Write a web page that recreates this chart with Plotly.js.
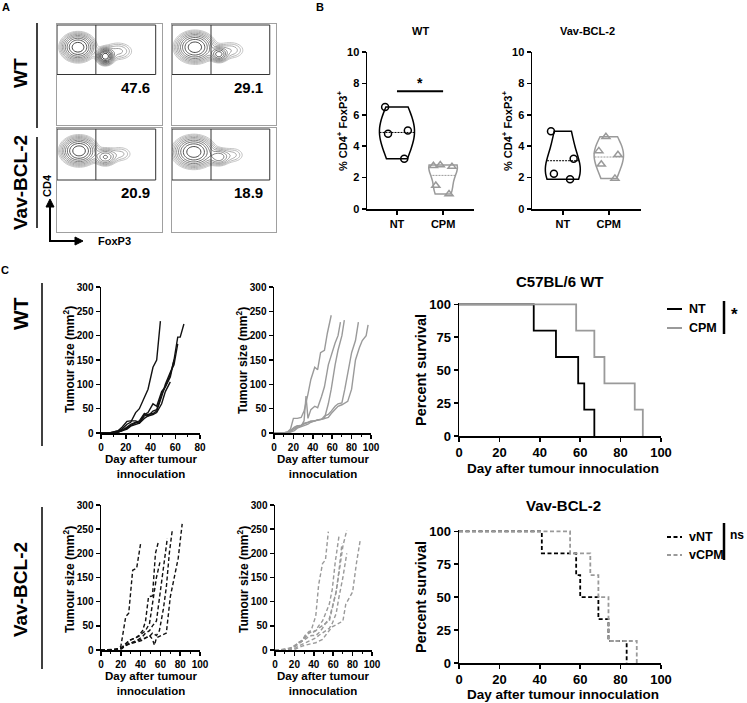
<!DOCTYPE html>
<html><head><meta charset="utf-8">
<script src="https://cdn.plot.ly/plotly-3.0.1.min.js"></script>
<style>html,body{margin:0;padding:0;background:#fff}#chart{width:747px;height:703px}</style>
</head><body><div id="chart"></div>
<script>
// ===================== DATA =====================
// Panel A: flow cytometry (CD4 vs FoxP3), % FoxP3+ of CD4+
const flowPct = ['47.6', '29.1', '20.9', '18.9'];
// populations (FoxP3 axis 0-100, CD4 axis 0-100)
const flowCx = [[20, 46, 58], [22, 45, 56], [21, 46, 60], [21, 45, 58]];
const flowCy = [[77, 68, 73], [77, 70, 74], [78, 72, 75], [77, 72, 74]];
const flowSx = [[7, 3.5, 8], [8, 4, 8], [7.5, 5, 7], [8.5, 5, 7]];
const flowSy = [[6, 3.5, 5], [6.5, 3.5, 5], [6, 4, 4.5], [6.5, 4, 4.5]];
const flowW  = [[1, 1.5, 0.12], [1, 0.6, 0.1], [1, 0.35, 0.08], [1, 0.3, 0.08]];
const gateSplit = [37, 37.5, 37, 37.5];
const gateBottom = 50, gateTop = 99, gateRight = 94;

// Panel B: % CD4+ FoxP3+
const bGroups = ['NT', 'CPM'];
const wtNT   = [6.5, 5.0, 4.8, 3.2];
const wtCPM  = [2.75, 2.8, 2.7, 1.5, 0.95];
const vavNT  = [4.95, 3.2, 2.25, 1.9];
const vavCPM = [4.6, 3.7, 3.45, 2.85, 1.95];

// Panel C: tumour growth (day, mm2)
const wtNTdays = [
  [0,7,10,14,17,21,24,28,31,35,38,42,45,48],
  [0,7,10,14,17,21,24,28,31,35,38,42,45,49,52,56,59,62],
  [0,7,10,14,17,21,24,28,31,35,38,42,45,49,52,56,59,62,64,67],
  [0,7,10,14,17,21,24,28,31,35,38,42,45,49,52,56,59],
  [0,7,10,14,17,21,24,28,31,35,38,42,45,49,52,56]
];
const wtNTsize = [
  [0,0,2,4,8,18,22,42,50,75,90,135,150,230],
  [0,0,0,2,4,8,14,18,20,35,38,40,45,75,100,125,140,183],
  [0,0,2,5,12,24,25,25,22,38,42,60,55,85,95,120,150,197,197,224],
  [0,0,0,3,6,10,15,20,25,40,35,45,48,80,95,115,150],
  [0,0,1,2,5,12,18,22,20,30,35,38,42,60,85,105]
];
const wtCPMdays = [
  [0,7,10,14,17,20,24,28,31,35,38,42,45,48,52,55,59],
  [0,7,10,14,17,21,24,28,31,33,35,38,42,45,49,52,56,59,63,66,68.5],
  [0,10,14,17,21,24,28,31,35,38,42,45,49,52,56,59,63,66,70,72.5],
  [0,10,14,17,21,24,28,31,35,38,42,45,49,52,56,59,63,66,70,73,77,80,84,87],
  [0,14,17,21,24,28,31,35,38,42,45,49,52,56,59,63,66,70,73,76,80,84,88,91,95,97]
];
const wtCPMsize = [
  [0,0,0,2,8,30,30,32,45,80,110,135,130,165,170,205,242],
  [0,0,0,0,5,12,15,14,25,76,30,48,55,52,75,95,140,160,185,200,228],
  [0,0,0,3,10,14,16,18,22,25,25,27,28,30,60,90,140,170,200,232],
  [0,0,2,5,8,12,15,20,22,24,26,27,28,35,38,45,55,60,62,90,130,165,190,228],
  [0,0,2,5,10,12,15,18,22,25,27,28,30,32,40,48,55,58,62,65,90,150,175,190,200,222]
];
const vavNTdays = [
  [0,10,14,17,20,25,28,32,36,40],
  [0,14,17,21,24,28,31,35,38,42,45,48,52,55,58],
  [0,14,17,21,24,28,31,35,38,42,45,49,52,56,60],
  [0,17,21,24,28,31,35,38,42,45,49,52,56,59,63,67],
  [0,17,21,24,28,31,35,38,42,45,49,52,56,59,63,66,69,72],
  [0,14,17,21,24,28,31,35,38,42,45,49,52,54,56,59,63,66,70,74,78,82]
];
const vavNTsize = [
  [0,0,1,3,7,69,76,165,169,220],
  [0,0,2,5,10,20,22,25,30,40,60,110,112,200,224],
  [0,0,2,5,12,18,22,25,28,35,40,55,100,150,186],
  [0,0,3,8,12,15,18,22,28,35,40,50,60,110,165,231],
  [0,2,5,10,12,14,16,18,20,25,28,35,30,40,85,130,200,248],
  [0,0,1,3,8,14,15,18,20,22,25,30,22,10,25,28,32,35,110,150,190,261]
];
const vavCPMdays = [
  [0,7,10,14,17,21,24,28,31,35,38,42,45,49,52,55],
  [0,10,14,17,21,24,28,31,35,38,42,45,49,52,56,59,62,66],
  [0,14,17,21,24,28,31,35,38,42,45,49,52,56,59,63,66,70,74],
  [0,14,17,21,24,28,31,35,38,42,45,49,52,56,59,63,66,69],
  [0,17,21,24,28,31,35,38,42,45,49,52,56,59,63,66,70,73,77,80,84,88],
  [0,14,17,21,24,28,31,35,38,42,45,49,52,56,59,63,66,70,74]
];
const vavCPMsize = [
  [0,0,2,3,5,8,12,18,25,35,45,70,135,179,186,245],
  [0,0,2,5,10,15,20,30,38,35,40,50,60,75,95,125,180,236],
  [0,0,3,8,15,20,28,35,38,40,45,50,55,65,90,120,160,215,248],
  [0,2,5,10,12,18,22,28,30,30,35,45,55,60,85,120,165,220],
  [0,0,2,5,8,10,12,12,15,18,22,30,40,48,52,55,60,95,110,120,180,229],
  [0,0,2,4,8,12,15,18,22,25,30,35,40,45,55,75,110,150,200]
];

// Survival (Kaplan-Meier)
const survWtNTt  = [0, 37, 48, 59, 62, 67];
const survWtNTs  = [100, 80, 60, 40, 20, 0];
const survWtCPMt = [0, 58, 67, 72, 87, 91];
const survWtCPMs = [100, 80, 60, 40, 20, 0];
const survVavNTt  = [0, 41, 58, 60, 69, 74, 83];
const survVavNTs  = [100, 83.3, 66.7, 50, 33.3, 16.7, 0];
const survVavCPMt = [0, 55, 65, 69, 74, 88];
const survVavCPMs = [100, 83.3, 66.7, 50, 16.7, 0];

// ===================== LAYOUT HELPERS =====================
const W = 747, H = 703;
const px = v => v / W, py = v => 1 - v / H;
const F = 'Liberation Sans, Arial, Helvetica, sans-serif';
const font = (size, color) => ({family: F, size: size, color: color || '#000', weight: 700});
const BLACK = '#000', GREY = '#9a9a9a';

const layout = {
  width: W, height: H, margin: {l: 0, r: 0, t: 0, b: 0},
  paper_bgcolor: '#fff', plot_bgcolor: 'rgba(0,0,0,0)',
  showlegend: false, violinmode: 'overlay', font: font(11),
  shapes: [], annotations: []
};
const traces = [];
const axKey = (c, n) => c + 'axis' + (n === 1 ? '' : n);
const axRef = (c, n) => c + (n === 1 ? '' : n);

function axPair(n, xd, yd, xr, yr, xo, yo, tsize) {
  const base = {showline: true, linecolor: BLACK, linewidth: 1.5, ticks: 'outside', ticklen: 4,
    tickwidth: 1.5, tickcolor: BLACK, showgrid: false, zeroline: false,
    tickfont: font(tsize || 10), fixedrange: true};
  layout[axKey('x', n)] = Object.assign({}, base, {domain: [px(xd[0]), px(xd[1])], range: xr, anchor: axRef('y', n)}, xo || {});
  layout[axKey('y', n)] = Object.assign({}, base, {domain: [py(yd[1]), py(yd[0])], range: yr, anchor: axRef('x', n)}, yo || {});
}
function txt(x, y, text, size, opts) {
  layout.annotations.push(Object.assign({xref: 'paper', yref: 'paper', x: px(x), y: py(y), text: text,
    showarrow: false, font: font(size), xanchor: 'center', yanchor: 'middle'}, opts || {}));
}
function pline(x0, y0, x1, y1, color, width, dash) {
  layout.shapes.push({type: 'line', xref: 'paper', yref: 'paper', x0: px(x0), y0: py(y0), x1: px(x1), y1: py(y1),
    line: {color: color, width: width, dash: dash || 'solid'}});
}
function ptri(pts) {
  const d = 'M' + pts.map(p => px(p[0]) + ',' + py(p[1])).join('L') + 'Z';
  layout.shapes.push({type: 'path', xref: 'paper', yref: 'paper', path: d, fillcolor: BLACK, line: {color: BLACK, width: 1}});
}

// ===================== PANEL A =====================
const flowBoxes = [[57, 162, 24, 125], [172, 276, 24, 125], [57, 162, 128, 232], [172, 276, 128, 232]];
const grid = [];
for (let g = 0; g <= 100; g += 1.5) grid.push(g);
flowBoxes.forEach((b, k) => {
  const n = k + 1;
  const hidden = {ticks: '', showticklabels: false, linecolor: '#a0a0a0', linewidth: 1, mirror: true};
  axPair(n, [b[0], b[1]], [b[2], b[3]], [0, 100], [0, 100], hidden, hidden);
  const z = grid.map(y => grid.map(x => {
    let s = 0;
    for (let p = 0; p < flowCx[k].length; p++) {
      const dx = (x - flowCx[k][p]) / flowSx[k][p], dy = (y - flowCy[k][p]) / flowSy[k][p];
      s += flowW[k][p] * Math.exp(-0.5 * (dx * dx + dy * dy));
    }
    return Math.log10(s + 1e-9);
  }));
  traces.push({type: 'contour', x: grid, y: grid, z: z, xaxis: axRef('x', n), yaxis: axRef('y', n),
    showscale: false, zauto: false, zmin: -1.5, zmax: 0.2,
    contours: {coloring: 'lines', start: -1.5, end: 0.2, size: 0.17},
    line: {width: 0.8}, colorscale: [[0, '#b5b5b5'], [0.5, '#6a6a6a'], [1, '#000']], hoverinfo: 'skip'});
  const xr = axRef('x', n), yr = axRef('y', n);
  layout.shapes.push({type: 'rect', xref: xr, yref: yr, x0: 0, x1: gateRight, y0: gateBottom, y1: gateTop,
    line: {color: '#333', width: 1}});
  layout.shapes.push({type: 'line', xref: xr, yref: yr, x0: gateSplit[k], x1: gateSplit[k], y0: gateBottom, y1: gateTop,
    line: {color: '#333', width: 1}});
  txt((b[0] + b[1]) / 2 + (k % 2 === 0 ? 26 : 24), b[2] + 64, flowPct[k], 15);
});
txt(6, 7, 'A', 11);
txt(20, 73, 'WT', 19, {textangle: -90});
txt(20, 183, 'Vav-BCL-2', 19, {textangle: -90});
pline(37, 23, 37, 128, BLACK, 1.5);
pline(37, 137, 37, 228, BLACK, 1.5);
txt(47, 186, 'CD4', 11, {textangle: -90});
txt(114, 241, 'FoxP3', 11);
// axis arrows (CD4 up, FoxP3 right)
pline(50, 241, 50, 206, BLACK, 2);
ptri([[46, 207], [54, 207], [50, 199]]);
pline(49, 241, 76, 241, BLACK, 2);
ptri([[75, 237], [75, 245], [83, 241]]);

// ===================== PANEL B =====================
txt(320, 7, 'B', 11);
const bx = {type: 'category', categoryarray: bGroups, categoryorder: 'array', tickfont: font(11)};
axPair(5, [367, 474], [52, 209], [-0.65, 1.67], [0, 10], bx, {dtick: 2, tickfont: font(11)});
axPair(6, [532, 641], [52, 209], [-0.67, 1.70], [0, 10], bx, {dtick: 2, tickfont: font(11)});
function violin(n, vals, name, color, symbol, w) {
  return {type: 'violin', x: vals.map(() => name), y: vals, xaxis: 'x' + n, yaxis: 'y' + n,
    spanmode: 'hard', fillcolor: 'rgba(255,255,255,0)', line: {color: color, width: 1.5},
    points: 'all', pointpos: 0, jitter: 0.8, marker: {symbol: symbol, size: 7, color: color, line: {color: color, width: 1.5}},
    meanline: {visible: true, color: color, width: 1}, box: {visible: false}, width: w, scalemode: 'width',
    showlegend: false, hoverinfo: 'skip'};
}
traces.push(violin(5, wtNT, 'NT', BLACK, 'circle-open', 0.76));
traces.push(violin(5, wtCPM, 'CPM', GREY, 'triangle-up-open', 0.62));
traces.push(violin(6, vavNT, 'NT', BLACK, 'circle-open', 0.76));
traces.push(violin(6, vavCPM, 'CPM', GREY, 'triangle-up-open', 0.64));
txt(420, 31, 'WT', 11);
txt(587, 31, 'Vav-BCL-2', 11);
txt(342, 131, '% CD4<sup>+</sup> FoxP3<sup>+</sup>', 11, {textangle: -90});
txt(507, 131, '% CD4<sup>+</sup> FoxP3<sup>+</sup>', 11, {textangle: -90});
layout.shapes.push({type: 'line', xref: 'x5', yref: 'y5', x0: 0, x1: 1, y0: 7.5, y1: 7.5, line: {color: BLACK, width: 2}});
layout.annotations.push({xref: 'x5', yref: 'y5', x: 0.5, y: 8.0, text: '*', showarrow: false, font: font(14)});

// ===================== PANEL C: growth =====================
txt(5, 270, 'C', 11);
txt(20, 314, 'WT', 21, {textangle: -90});
txt(20, 590, 'Vav-BCL-2', 19, {textangle: -90});
pline(42, 283, 42, 446, BLACK, 1.5);
pline(42, 507, 42, 669, BLACK, 1.5);
const minorX = {minor: {dtick: 10, ticks: 'outside', ticklen: 2.5, tickwidth: 1, tickcolor: BLACK}};
axPair(7, [101, 200], [287, 433], [0, 80], [0, 300], Object.assign({dtick: 20}, minorX), {dtick: 50});
axPair(8, [274, 371], [287, 433], [0, 100], [0, 300], Object.assign({dtick: 20}, minorX), {dtick: 50});
axPair(9, [101, 200], [505, 650], [0, 100], [0, 300], Object.assign({dtick: 20}, minorX), {dtick: 50});
axPair(10, [275, 372], [505, 650], [0, 100], [0, 300], Object.assign({dtick: 20}, minorX), {dtick: 50});
function growth(n, days, sizes, color, dash) {
  days.forEach((d, i) => traces.push({type: 'scatter', mode: 'lines', x: d, y: sizes[i], xaxis: 'x' + n, yaxis: 'y' + n,
    line: {color: color, width: 1.4, dash: dash}, showlegend: false, hoverinfo: 'skip'}));
}
growth(7, wtNTdays, wtNTsize, '#111', 'solid');
growth(8, wtCPMdays, wtCPMsize, GREY, 'solid');
growth(9, vavNTdays, vavNTsize, '#111', '4px,2.5px');
growth(10, vavCPMdays, vavCPMsize, GREY, '4px,2.5px');
const tTitle = 'Tumour size (mm<sup>2</sup>)';
const dTitle = 'Day after tumour<br>innoculation';
txt(69, 360, tTitle, 12, {textangle: -90});
txt(242, 360, tTitle, 12, {textangle: -90});
txt(69, 580, tTitle, 12, {textangle: -90});
txt(243, 580, tTitle, 12, {textangle: -90});
txt(151, 466, dTitle, 11.5);
txt(323, 466, dTitle, 11.5);
txt(151, 683, dTitle, 11.5);
txt(323, 683, dTitle, 11.5);

// ===================== PANEL C: survival =====================
axPair(11, [459, 661], [303, 436], [0, 100], [0, 101], {dtick: 20}, {tickvals: [0, 25, 50, 75, 100]}, 13);
axPair(12, [459, 661], [530, 663], [0, 100], [0, 101], {dtick: 20}, {tickvals: [0, 25, 50, 75, 100]}, 13);
function surv(n, t, s, color, dash) {
  traces.push({type: 'scatter', mode: 'lines', x: t, y: s, xaxis: 'x' + n, yaxis: 'y' + n,
    line: {color: color, width: 1.8, shape: 'hv', dash: dash}, showlegend: false, hoverinfo: 'skip'});
}
surv(11, survWtNTt, survWtNTs, BLACK, 'solid');
surv(11, survWtCPMt, survWtCPMs, GREY, 'solid');
surv(12, survVavNTt, survVavNTs, BLACK, '4px,2.5px');
surv(12, survVavCPMt, survVavCPMs, GREY, '4px,2.5px');
txt(560, 281, 'C57BL/6 WT', 15);
txt(563, 505, 'Vav-BCL-2', 15);
txt(421, 370, 'Percent survival', 14.5, {textangle: -90});
txt(421, 597, 'Percent survival', 14.5, {textangle: -90});
txt(563, 468, 'Day after tumour innoculation', 13.5);
txt(563, 694, 'Day after tumour innoculation', 13.5);
// legends
pline(667, 309, 682, 309, BLACK, 2);
pline(667, 328, 682, 328, GREY, 2);
txt(687, 309, 'NT', 12.5, {xanchor: 'left'});
txt(687, 328, 'CPM', 12.5, {xanchor: 'left'});
pline(724, 301, 724, 334, BLACK, 2.5);
txt(734, 315, '*', 17);
pline(667, 537, 682, 537, BLACK, 2, '4px,2.5px');
pline(667, 555, 682, 555, GREY, 2, '4px,2.5px');
txt(687, 537, 'vNT', 12.5, {xanchor: 'left'});
txt(687, 555, 'vCPM', 12.5, {xanchor: 'left'});
pline(724, 523, 724, 560, BLACK, 2.5);
txt(728, 535, 'ns', 12, {xanchor: 'left'});

Plotly.newPlot('chart', traces, layout, {staticPlot: true, displayModeBar: false});
</script></body></html>
